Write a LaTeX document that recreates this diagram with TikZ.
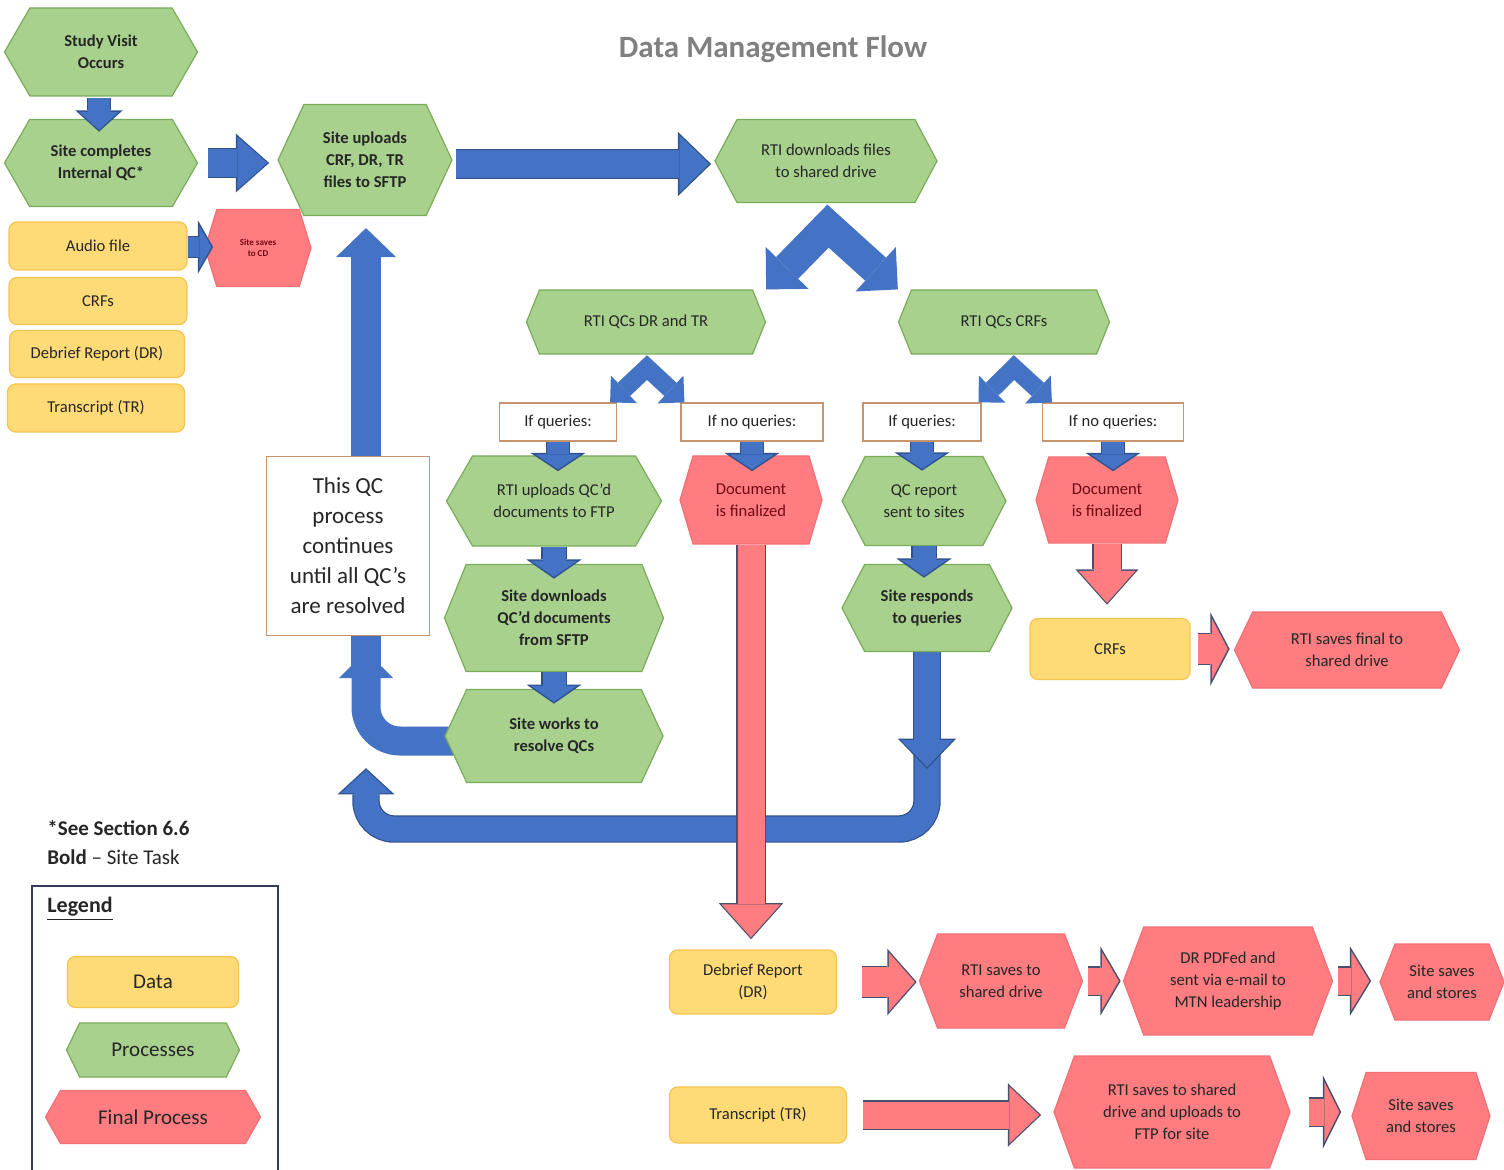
\documentclass[tikz,border=0pt]{standalone}
\usepackage{fontspec}
\setmainfont{Carlito}
\usetikzlibrary{shapes.symbols,arrows.meta,calc}

\definecolor{procfill}{RGB}{169,209,142}
\definecolor{procline}{RGB}{120,172,88}
\definecolor{finfill}{RGB}{255,124,128}
\definecolor{finline}{RGB}{240,112,118}
\definecolor{datfill}{RGB}{255,219,120}
\definecolor{datline}{RGB}{244,196,80}
\definecolor{qryline}{RGB}{200,148,110}
\definecolor{flowblue}{RGB}{68,114,196}
\definecolor{flowedge}{RGB}{47,82,143}
\definecolor{rededge}{RGB}{72,80,110}
\definecolor{titlegray}{RGB}{128,128,128}
\definecolor{doctext}{RGB}{110,10,20}
\definecolor{legline}{RGB}{50,60,90}
\pgfdeclarelayer{back}
\pgfsetlayers{back,main}

\begin{document}
\begin{tikzpicture}[x=0.5pt, y=-0.5pt,
  every node/.style={font=\fontsize{8.3}{11}\selectfont, text=black!85, align=center, inner sep=1pt},
  sitetask/.style={font=\fontsize{8.3}{11}\selectfont\bfseries},
  wh/.style 2 args={minimum width=#1pt, minimum height=#2pt},
  hexa/.style={shape=signal, signal to=west and east, signal pointer angle=#1, line width=0.6pt},
  proc/.style={hexa=#1, draw=procline, fill=procfill},
  proc/.default=125,
  fin/.style={hexa=#1, draw=finline, fill=finfill},
  fin/.default=140,
  dat/.style={rectangle, rounded corners=4pt, line width=0.6pt, draw=datline, fill=datfill},
  qry/.style={rectangle, line width=0.6pt, draw=qryline, fill=white},
  arr/.style n args={5}{draw=#1, line width=#3pt, line join=miter,
    -{Triangle[width=#4pt, length=#5pt, line width=0pt]},
    preaction={draw=#2, line width=#3pt+1.2pt, shorten >=-0.9pt,
      -{Triangle[width=#4pt*(#5+1.6)/#5, length=#5pt+1.6pt, line width=0pt]}}},
  bluarr/.style n args={3}{arr={flowblue}{flowedge}{#1}{#2}{#3}},
  redarr/.style n args={3}{arr={finfill}{rededge}{#1}{#2}{#3}},
  looparr/.style n args={3}{draw=flowblue, line width=#1pt,
    -{Triangle[width=#2pt, length=#3pt, line width=0pt]}},
  chev/.style n args={3}{draw=flowblue, line width=#1pt, line join=miter,
    {Triangle[width=#2pt, length=#3pt, line width=0pt]}-{Triangle[width=#2pt, length=#3pt, line width=0pt]}}
]
  \useasboundingbox (0,0) rectangle (1504,1170);

  \node[font=\fontsize{15.5}{18}\selectfont\bfseries, text=titlegray] (title) at (773,49) {Data Management Flow};

  \node[proc=120, wh={96.5}{44}, sitetask] (study) at (101,52) {Study Visit\\Occurs};
  \node[proc=120, wh={96.5}{43.5}, sitetask] (comp) at (101,163) {Site completes\\Internal QC*};
  \node[proc=130, wh={87}{55.5}, sitetask] (upload) at (365,160) {Site uploads\\CRF, DR, TR\\files to SFTP};
  \node[proc=124, wh={111}{41.5}] (rtidl) at (826,161) {RTI downloads files\\to shared drive};
  \node[proc=136, wh={119.5}{32}] (qcdr) at (646,322) {RTI QCs DR and TR};
  \node[proc=136, wh={105.5}{32}] (qccrf) at (1004,322) {RTI QCs CRFs};
  \node[qry, wh={58.5}{19}] (ifq1) at (558,422) {If queries:};
  \node[qry, wh={71}{19}] (ifn1) at (752,422) {If no queries:};
  \node[qry, wh={59}{19}] (ifq2) at (922,422) {If queries:};
  \node[qry, wh={70.5}{19}] (ifn2) at (1113,422) {If no queries:};
  \node[proc=120, wh={107.5}{45}] (rtiup) at (554,501) {RTI uploads QC’d\\documents to FTP};
  \node[proc=136, wh={109.5}{53.5}, sitetask] (sdl) at (554,618) {Site downloads\\QC’d documents\\from SFTP};
  \node[proc=130, wh={109}{46.5}, sitetask] (swork) at (554,736) {Site works to\\resolve QCs};
  \node[proc=125, wh={82}{44.5}] (qcrep) at (924,501) {QC report\\sent to sites};
  \node[proc=125, wh={85}{43.5}, sitetask] (sresp) at (927,608) {Site responds\\to queries};
  \node[qry, wh={81.5}{89.5}, font=\fontsize{11.5}{15}\selectfont] (qcnote) at (348,546) {This QC\\process\\continues\\until all QC’s\\are resolved};

  \node[dat, wh={89}{24}] (audio) at (98,246) {Audio file};
  \node[dat, wh={89}{23.5}] (crfa) at (98,301) {CRFs};
  \node[dat, wh={87.5}{23.5}] (dra) at (97,354) {Debrief Report (DR)};
  \node[dat, wh={88.5}{24}] (tra) at (96,408) {Transcript (TR)};
  \node[fin=146, wh={53}{38.5}, font=\fontsize{4.5}{5.5}\selectfont\bfseries, text=doctext] (cd) at (258,248) {Site saves\\to CD};

  \node[fin=147, wh={71}{44}, text=doctext] (docl) at (751,500) {Document\\is finalized};
  \node[fin=147, wh={71}{43}, text=doctext] (docr) at (1107,500) {Document\\is finalized};
  \node[dat, wh={80}{30.5}] (crfb) at (1110,649) {CRFs};
  \node[fin=129, wh={112.5}{38}] (rsfin) at (1347,650) {RTI saves final to\\shared drive};

  \node[dat, wh={83.5}{32}] (drb) at (753,982) {Debrief Report\\(DR)};
  \node[fin=138, wh={81.5}{47}] (rsa) at (1001,981) {RTI saves to\\shared drive};
  \node[fin=139, wh={104.5}{54}] (pdf) at (1228,981) {DR PDFed and\\sent via e-mail to\\MTN leadership};
  \node[fin=137, wh={62}{38}] (ssa) at (1442,982) {Site saves\\and stores};
  \node[dat, wh={88.5}{28}] (trb) at (758,1115) {Transcript (TR)};
  \node[fin=140, wh={118}{56}] (rsb) at (1172,1112) {RTI saves to shared\\drive and uploads to\\FTP for site};
  \node[fin=144, wh={69}{43.5}] (ssb) at (1421,1116) {Site saves\\and stores};

  \node[anchor=west, align=left, font=\fontsize{10.5}{14.5}\selectfont] (note) at (45,843) {\textbf{*See Section 6.6}\\\textbf{Bold} – Site Task};
  \draw[legline, line width=0.8pt] (32,1190) |- (278,886) -- (278,1190);
  \node[anchor=west, font=\fontsize{11}{13}\selectfont\bfseries] (legtitle) at (45,909) {\underline{Legend}};
  \node[dat, wh={85.5}{25.5}, font=\fontsize{10.5}{13}\selectfont] (legdat) at (153,982) {Data};
  \node[proc=128, wh={86.5}{27}, font=\fontsize{10.5}{13}\selectfont] (legproc) at (153,1050) {Processes};
  \node[fin=121, wh={107.5}{26.5}, font=\fontsize{10.5}{13}\selectfont] (legfin) at (153,1117) {Final Process};

  \begin{pgfonlayer}{back}
    \coordinate (loopl) at (366,651);
    \coordinate (lbot) at (366,829);
    \coordinate (lup) at (366,770);
    \coordinate (ldown) at ($(sresp.south)+(0,115)$);
    \draw[looparr={14.5}{27}{13.5}, rounded corners=17pt] ($(swork)+(0,5)$) -| (loopl);
    \draw[looparr={15}{30}{14.5}] ($(loopl)+(0,27)$) -- ($(loopl |- upload.south)+(0,12)$);
    \draw[bluarr={12.5}{25}{11.5}, rounded corners=14pt] ($(ldown)+(0,-25)$) |- (lbot) -- (lup);
    \draw[bluarr={13}{26}{13.5}] (sresp.south) -- (ldown);
  \end{pgfonlayer}

  \draw[bluarr={11}{20}{9}] ($(study.south)+(-2,1)$) -- ($(comp.north)+(-2,11)$);
  \draw[bluarr={14}{26.5}{15}] ($(comp.east)+(10,0)$) -- ($(comp.east -| upload.west)+(-10,0)$);
  \draw[bluarr={14}{29}{15}] ($(upload.east)+(3,4)$) -- ($(upload.east -| rtidl.west)+(-5,4)$);
  \draw[bluarr={10}{21}{6}] ($(audio.east)+(0,1)$) -- ($(audio.east -| cd.west)+(7,1)$);
  \draw[chev={15.5}{30}{15}] (qcdr.north -| qcdr.east) -- ($(rtidl.south)+(2,23)$) -- (qccrf.north -| qccrf.west);
  \draw[chev={9}{19}{9.5}] ($(ifq1.north east)+(-7,0)$) -- ($(qcdr.south)+(1,13)$) -- ($(ifn1.north west)+(4,0)$);
  \draw[chev={9}{19}{9.5}] ($(ifq2.north east)+(-3,0)$) -- ($(qccrf.south)+(10,13)$) -- ($(ifn2.north west)+(10,0)$);
  \draw[bluarr={11}{22.5}{7.5}] (ifq1.south) -- ($(ifq1.south |- rtiup.north)+(0,14)$);
  \draw[bluarr={11}{22.5}{7.5}] (ifn1.south) -- ($(ifn1.south |- docl.north)+(0,14)$);
  \draw[bluarr={11}{22.5}{7.5}] (ifq2.south) -- ($(ifq2.south |- qcrep.north)+(0,13)$);
  \draw[bluarr={11}{22.5}{7.5}] (ifn2.south) -- ($(ifn2.south |- docr.north)+(0,13)$);
  \draw[bluarr={11.5}{23}{8}] (rtiup.south) -- ($(sdl.north)+(0,13)$);
  \draw[bluarr={11.5}{23}{8}] (sdl.south) -- ($(swork.north)+(0,13)$);
  \draw[bluarr={11.5}{23}{8}] (qcrep.south) -- ($(qcrep.south |- sresp.north)+(0,12)$);

  \draw[redarr={13.5}{29.5}{16.5}] (docl.south) -- ($(docl.south |- drb.north)+(0,-12)$);
  \draw[redarr={13.5}{28.5}{16}] (docr.south) -- ($(docr.south |- crfb.north)+(0,-15)$);
  \draw[redarr={15}{30.5}{8}] ($(crfb.east)+(7,0)$) -- ($(crfb.east -| rsfin.west)+(-6,0)$);
  \draw[redarr={15}{29.5}{13}] ($(drb.east)+(25,0)$) -- ($(drb.east -| rsa.west)+(-4,0)$);
  \draw[redarr={13.5}{29}{8.5}] ($(rsa.east)+(5,0)$) -- ($(rsa.east -| pdf.west)+(-4,0)$);
  \draw[redarr={13.5}{29.5}{9}] ($(pdf.east)+(5,0)$) -- ($(pdf.east -| ssa.west)+(-10,0)$);
  \draw[redarr={13.5}{28.5}{15}] ($(trb.east)+(16,0)$) -- ($(trb.east -| rsb.west)+(-14,0)$);
  \draw[redarr={13.5}{30}{7.5}] ($(rsb.east)+(18,0)$) -- ($(rsb.east -| ssb.west)+(-12,0)$);
\end{tikzpicture}
\end{document}
